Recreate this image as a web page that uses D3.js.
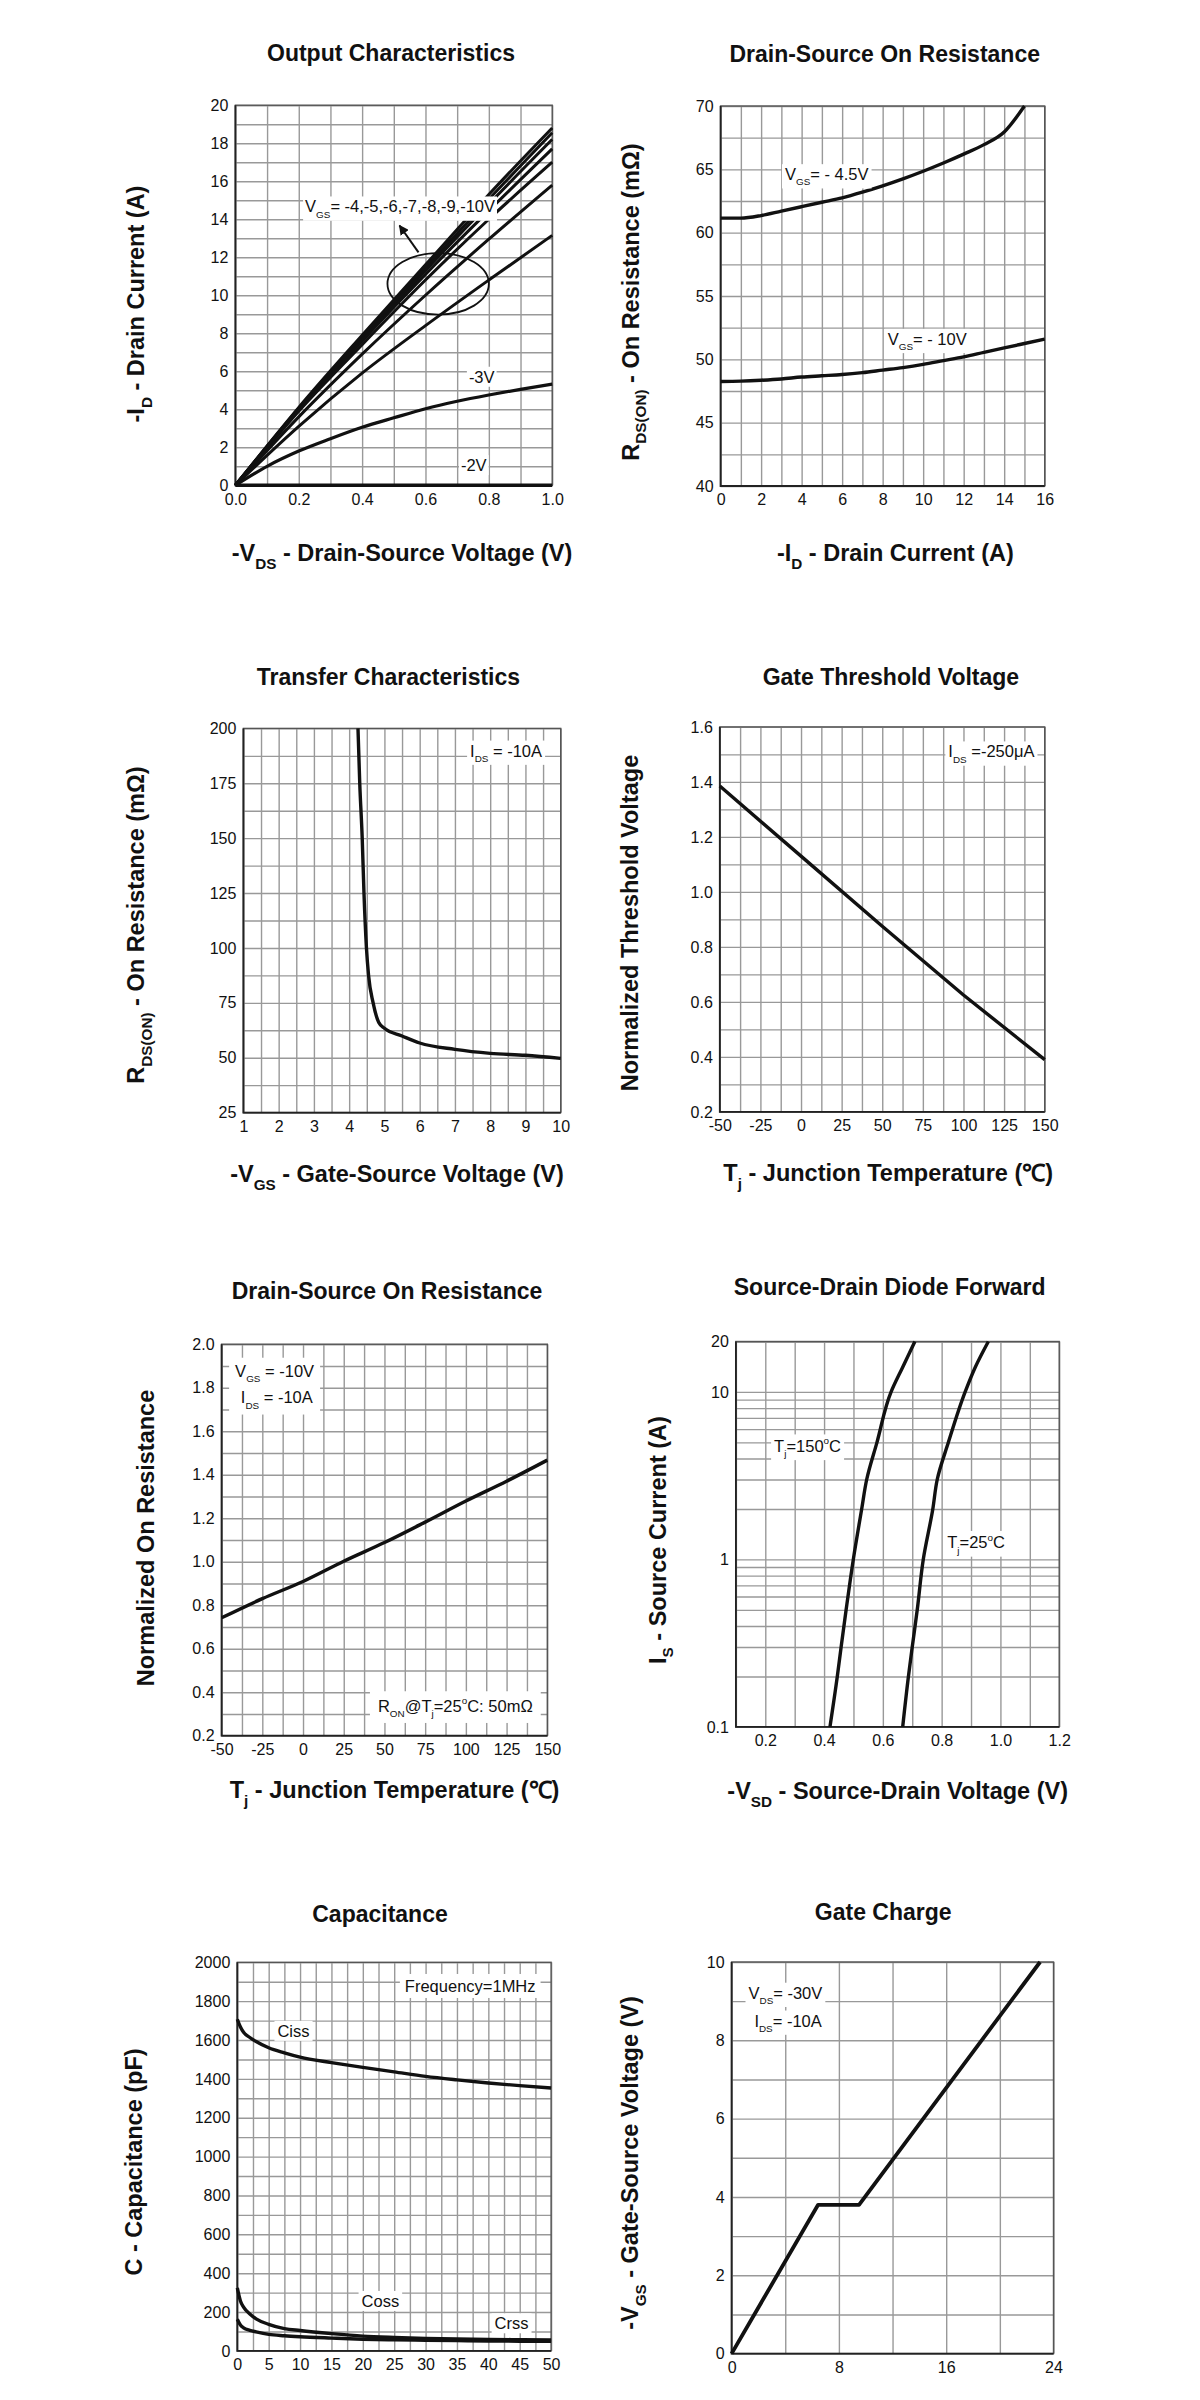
<!DOCTYPE html>
<html><head><meta charset="utf-8">
<script src="https://cdn.jsdelivr.net/npm/d3@7"></script>
<style>
body{margin:0;background:#fff;}
svg{display:block;}
text{font-family:Arial,"Liberation Sans",Helvetica,sans-serif;}
</style></head><body>
<svg id="c" width="1200" height="2400"></svg>
<script>
// ================= DATA =================
// 1. Output characteristics (-VDS V, -ID A)
const ocVds = [0, 0.2, 0.4, 0.6, 0.8, 1.0];
const ocId10 = [0, 4.1, 7.9, 11.6, 15.3, 18.8];
const ocId9  = [0, 4.05, 7.8, 11.45, 15.05, 18.55];
const ocId8  = [0, 4.0, 7.7, 11.3, 14.8, 18.2];
const ocId7  = [0, 3.95, 7.6, 11.1, 14.45, 17.7];
const ocId6  = [0, 3.9, 7.4, 10.8, 14.0, 17.0];
const ocId5  = [0, 3.6, 6.9, 10.0, 12.95, 15.8];
const ocId4  = [0, 3.1, 5.9, 8.4, 10.8, 13.15];
const ocVds3 = [0, 0.1, 0.2, 0.3, 0.4, 0.5, 0.6, 0.7, 0.8, 0.9, 1.0];
const ocId3  = [0, 1.0, 1.8, 2.45, 3.05, 3.55, 4.03, 4.42, 4.75, 5.05, 5.32];
const ocVds2 = [0, 1.0];
const ocId2  = [0, 0];
const oc_xTicks = [0, 0.2, 0.4, 0.6, 0.8, 1.0];
const oc_yTicks = [0, 2, 4, 6, 8, 10, 12, 14, 16, 18, 20];

// 2. Drain-source on resistance vs drain current
const rdsId45 = [0, 1, 2, 3, 4, 5, 6, 7, 8, 9, 10, 11, 12, 13, 14, 15];
const rds45   = [61.15, 61.15, 61.35, 61.7, 62.05, 62.4, 62.75, 63.2, 63.7, 64.25, 64.85, 65.5, 66.2, 66.95, 67.95, 70.0];
const rdsId10 = [0, 1, 2, 3, 4, 5, 6, 7, 8, 9, 10, 11, 12, 13, 14, 15, 16];
const rds10   = [48.25, 48.28, 48.35, 48.45, 48.6, 48.7, 48.8, 48.95, 49.15, 49.35, 49.6, 49.9, 50.2, 50.55, 50.9, 51.25, 51.6];
const rds_xTicks = [0, 2, 4, 6, 8, 10, 12, 14, 16];
const rds_yTicks = [40, 45, 50, 55, 60, 65, 70];

// 3. Transfer characteristics
const trVgs = [4.25, 4.30, 4.37, 4.42, 4.49, 4.55, 4.68, 4.84, 5.0, 5.5, 6, 7, 8, 9, 10];
const trRds = [200, 175, 150, 125, 100, 87.5, 75, 66, 63.4, 59.9, 56.7, 53.8, 52, 51.1, 49.7];
const tr_xTicks = [1, 2, 3, 4, 5, 6, 7, 8, 9, 10];
const tr_yTicks = [25, 50, 75, 100, 125, 150, 175, 200];

// 4. Gate threshold voltage
const gtT = [-50, 0, 50, 100, 150];
const gtV = [1.385, 1.13, 0.875, 0.625, 0.39];
const gt_xTicks = [-50, -25, 0, 25, 50, 75, 100, 125, 150];
const gt_yTicks = [0.2, 0.4, 0.6, 0.8, 1.0, 1.2, 1.4, 1.6];

// 5. Normalized on resistance vs temperature
const nrT = [-50, -25, 0, 25, 50, 75, 100, 125, 150];
const nrR = [0.742, 0.83, 0.909, 1.002, 1.088, 1.182, 1.279, 1.37, 1.467];
const nr_xTicks = [-50, -25, 0, 25, 50, 75, 100, 125, 150];
const nr_yTicks = [0.2, 0.4, 0.6, 0.8, 1.0, 1.2, 1.4, 1.6, 1.8, 2.0];

// 6. Source-drain diode forward
const sdI    = [0.1, 0.2, 0.3, 0.5, 1, 2, 3, 5, 10, 14, 20];
const sdV150 = [0.420, 0.445, 0.458, 0.475, 0.4995, 0.528, 0.545, 0.58, 0.628, 0.667, 0.709];
const sdV25  = [0.6675, 0.687, 0.70, 0.717, 0.7375, 0.77, 0.785, 0.823, 0.88, 0.914, 0.959];
const sd_xTicks = [0.2, 0.4, 0.6, 0.8, 1.0, 1.2];
const sd_yTicks = [0.1, 1, 10, 20];

// 7. Capacitance
const capV = [0, 0.5, 1, 2, 3, 5, 7.5, 10, 15, 20, 25, 30, 35, 40, 45, 50];
const ciss = [1707, 1667, 1640, 1613, 1592, 1560, 1534, 1512, 1484, 1459, 1436, 1413, 1395, 1379, 1365, 1353];
const coss = [324, 257, 225, 190, 165, 137, 115, 105, 89, 76, 69, 64, 61, 59, 58, 57];
const crss = [163, 133, 119, 106, 98, 85, 78, 73, 66, 60, 57, 55, 53, 51, 50, 50];
const cap_xTicks = [0, 5, 10, 15, 20, 25, 30, 35, 40, 45, 50];
const cap_yTicks = [0, 200, 400, 600, 800, 1000, 1200, 1400, 1600, 1800, 2000];

// 8. Gate charge
const gcQ = [0, 6.45, 9.5, 23];
const gcV = [0, 3.8, 3.8, 10];
const gc_xTicks = [0, 8, 16, 24];
const gc_yTicks = [0, 2, 4, 6, 8, 10];

// ================= DRAWING =================
const svg = d3.select('#c');
const INK = '#111';
const hy = f => d => f(d).replace('\u2212', '-');
const fInt = hy(d3.format('d'));
const f1 = hy(d3.format('.1f'));

function rich(g, x, y, parts, o) {
  const size = o.size;
  const t = g.append('text').attr('x', x).attr('y', y)
    .attr('font-size', size).attr('font-weight', o.bold ? 'bold' : 'normal')
    .attr('text-anchor', o.anchor || 'start').attr('fill', INK).attr('dy', '0.35em');
  if (o.rotate) t.attr('transform', `rotate(-90,${x},${y})`);
  let shift = 0;
  parts.forEach(p => {
    const s = typeof p === 'string' ? {t: p} : p;
    const ts = t.append('tspan').text(s.t);
    const target = s.sub ? 0.32 : (s.sup ? -0.45 : 0);
    ts.attr('font-size', (s.sub || s.sup) ? size * (o.subScale || 0.6) : size);
    const d = target - shift;
    if (d !== 0) ts.attr('dy', (d * size) + 'px');
    shift = target;
  });
  if (o.bg) boxBehind(g, [t.node()], o.pad || 3, o.padY || 1);
  return t;
}

function boxBehind(g, nodes, pad, padY) {
  const bs = nodes.map(n => n.getBBox());
  const x0 = d3.min(bs, b => b.x), x1 = d3.max(bs, b => b.x + b.width);
  const y0 = d3.min(bs, b => b.y), y1 = d3.max(bs, b => b.y + b.height);
  g.insert('rect', () => nodes[0]).attr('x', x0 - pad).attr('y', y0 - padY)
    .attr('width', x1 - x0 + 2 * pad).attr('height', y1 - y0 + 2 * padY).attr('fill', '#fff');
}

function panel(c) {
  const g = svg.append('g');
  const x = (c.xLog ? d3.scaleLog() : d3.scaleLinear()).domain(c.xDomain).range([c.x0, c.x1]);
  const y = (c.yLog ? d3.scaleLog() : d3.scaleLinear()).domain(c.yDomain).range([c.y1, c.y0]);
  const W = c.x1 - c.x0, H = c.y1 - c.y0;
  // grid
  g.append('g').attr('transform', `translate(0,${c.y1})`)
    .call(d3.axisBottom(x).tickValues(c.xGrid).tickSize(-H).tickFormat(''))
    .call(s => { s.select('.domain').remove(); s.selectAll('line').attr('stroke', '#999').attr('stroke-width', 1.4); });
  g.append('g').attr('transform', `translate(${c.x0},0)`)
    .call(d3.axisLeft(y).tickValues(c.yGrid).tickSize(-W).tickFormat(''))
    .call(s => { s.select('.domain').remove(); s.selectAll('line').attr('stroke', '#999').attr('stroke-width', 1.4); });
  // frame
  g.append('rect').attr('x', c.x0).attr('y', c.y0).attr('width', W).attr('height', H)
    .attr('fill', 'none').attr('stroke', '#555').attr('stroke-width', 1.4);
  g.append('path').attr('d', `M${c.x0},${c.y0}V${c.y1}H${c.x1}`).attr('fill', 'none')
    .attr('stroke', '#222').attr('stroke-width', 1.8);
  // tick labels
  g.append('g').attr('transform', `translate(0,${c.y1})`)
    .call(d3.axisBottom(x).tickValues(c.xTicks).tickSize(0).tickPadding(c.xPad || 8).tickFormat(c.xFmt || fInt))
    .call(s => { s.select('.domain').remove(); s.attr('font-family', null).attr('font-size', null);
      s.selectAll('text').attr('font-size', 16).attr('fill', INK); });
  g.append('g').attr('transform', `translate(${c.x0},0)`)
    .call(d3.axisLeft(y).tickValues(c.yTicks).tickSize(0).tickPadding(c.yPad || 7).tickFormat(c.yFmt || fInt))
    .call(s => { s.select('.domain').remove(); s.attr('font-family', null).attr('font-size', null);
      s.selectAll('text').attr('font-size', 16).attr('fill', INK); });
  // titles
  rich(g, c.tX, c.tY, [c.title], {size: 23, bold: true, anchor: 'middle'});
  if (c.xTitle) rich(g, c.xtX, c.xtY, c.xTitle, {size: 23.5, bold: true, anchor: 'middle', subScale: 0.65});
  rich(g, c.ytX, c.ytY, c.yTitle, {size: 23.5, bold: true, anchor: 'middle', rotate: true, subScale: 0.65});
  return {g, x, y};
}

function curve(p, xs, ys, opts) {
  const o = opts || {};
  const pts = xs.map((v, i) => [v, ys[i]]);
  p.g.append('path').datum(pts)
    .attr('d', d3.line().x(d => p.x(d[0])).y(d => p.y(d[1])).curve(o.curve || d3.curveMonotoneX))
    .attr('fill', 'none').attr('stroke', INK).attr('stroke-width', o.w || 3.4)
    .attr('stroke-linejoin', 'round').attr('stroke-linecap', 'butt');
}

function label(p, dx, dy, parts, o) {
  return rich(p.g, p.x(dx), p.y(dy), parts, Object.assign({size: 16.5, bg: true}, o || {}));
}

const r = (a, b, s) => d3.range(a, b + s / 2, s);

// ---------- Panel 1: Output Characteristics ----------
const p1 = panel({x0: 235.4, x1: 552.2, y0: 105.2, y1: 485.3, xDomain: [0, 1], yDomain: [0, 20],
  xGrid: r(0, 1, 0.1), yGrid: r(0, 20, 1), xTicks: oc_xTicks, yTicks: oc_yTicks, xFmt: f1,
  title: 'Output Characteristics', tX: 391, tY: 52.5,
  xTitle: ['-V', {t: 'DS', sub: true}, ' - Drain-Source Voltage (V)'], xtX: 402, xtY: 553,
  yTitle: ['-I', {t: 'D', sub: true}, ' - Drain Current (A)'], ytX: 136, ytY: 304});
[ocId10, ocId9, ocId8, ocId7, ocId6, ocId5, ocId4].forEach(s => curve(p1, ocVds, s, {w: 3}));
curve(p1, ocVds3, ocId3, {w: 3.2});
curve(p1, ocVds2, ocId2, {w: 3.6, curve: d3.curveLinear});
p1.g.append('ellipse').attr('cx', p1.x(0.64)).attr('cy', p1.y(10.6))
  .attr('rx', p1.x(0.80) - p1.x(0.64)).attr('ry', p1.y(10.6) - p1.y(12.22))
  .attr('fill', 'none').attr('stroke', INK).attr('stroke-width', 1.8);
svg.append('defs').append('marker').attr('id', 'ah').attr('viewBox', '0 0 10 10')
  .attr('refX', 9).attr('refY', 5).attr('markerWidth', 5).attr('markerHeight', 5).attr('orient', 'auto')
  .append('path').attr('d', 'M0,0L10,5L0,10z').attr('fill', INK);
p1.g.append('line').attr('x1', p1.x(0.578)).attr('y1', p1.y(12.26)).attr('x2', p1.x(0.518)).attr('y2', p1.y(13.67))
  .attr('stroke', INK).attr('stroke-width', 2).attr('marker-end', 'url(#ah)');
label(p1, 0.22, 14.66, ['V', {t: 'GS', sub: true}, '= -4,-5,-6,-7,-8,-9,-10V'], {pad: 2});
label(p1, 0.737, 5.7, ['-3V'], {pad: 2});
label(p1, 0.712, 1.05, ['-2V'], {pad: 2});

// ---------- Panel 2: Drain-Source On Resistance ----------
const p2 = panel({x0: 720.6, x1: 1044.7, y0: 106, y1: 486, xDomain: [0, 16], yDomain: [40, 70],
  xGrid: r(0, 16, 1), yGrid: r(40, 70, 2.5), xTicks: rds_xTicks, yTicks: rds_yTicks,
  title: 'Drain-Source On Resistance', tX: 884.7, tY: 54,
  xTitle: ['-I', {t: 'D', sub: true}, ' - Drain Current (A)'], xtX: 895.4, xtY: 553,
  yTitle: ['R', {t: 'DS(ON)', sub: true}, ' - On Resistance (mΩ)'], ytX: 630.6, ytY: 302});
curve(p2, rdsId45, rds45);
curve(p2, rdsId10, rds10);
label(p2, 3.18, 64.6, ['V', {t: 'GS', sub: true}, '= - 4.5V']);
label(p2, 8.25, 51.6, ['V', {t: 'GS', sub: true}, '= - 10V']);

// ---------- Panel 3: Transfer Characteristics ----------
const p3 = panel({x0: 243.4, x1: 560.7, y0: 728.4, y1: 1112.6, xDomain: [1, 10], yDomain: [25, 200],
  xGrid: r(1, 10, 0.5), yGrid: r(25, 200, 12.5), xTicks: tr_xTicks, yTicks: tr_yTicks,
  title: 'Transfer Characteristics', tX: 388.4, tY: 677,
  xTitle: ['-V', {t: 'GS', sub: true}, ' - Gate-Source Voltage (V)'], xtX: 397, xtY: 1174,
  yTitle: ['R', {t: 'DS(ON)', sub: true}, ' - On Resistance (mΩ)'], ytX: 136, ytY: 925});
curve(p3, trVgs, trRds);
label(p3, 7.43, 189.8, ['I', {t: 'DS', sub: true}, ' = -10A']);

// ---------- Panel 4: Gate Threshold Voltage ----------
const p4 = panel({x0: 719.8, x1: 1044.7, y0: 726.9, y1: 1111.9, xDomain: [-50, 150], yDomain: [0.2, 1.6],
  xGrid: r(-50, 150, 12.5), yGrid: r(0.2, 1.6, 0.1), xTicks: gt_xTicks, yTicks: gt_yTicks, yFmt: f1,
  title: 'Gate Threshold Voltage', tX: 890.9, tY: 677,
  xTitle: ['T', {t: 'j', sub: true}, ' - Junction Temperature (℃)'], xtX: 888.2, xtY: 1173,
  yTitle: ['Normalized Threshold Voltage'], ytX: 630, ytY: 923});
curve(p4, gtT, gtV, {curve: d3.curveLinear});
label(p4, 90.7, 1.51, ['I', {t: 'DS', sub: true}, ' =-250μA']);

// ---------- Panel 5: Normalized On Resistance ----------
const p5 = panel({x0: 221.6, x1: 547.3, y0: 1344.2, y1: 1735.7, xDomain: [-50, 150], yDomain: [0.2, 2.0],
  xGrid: r(-50, 150, 12.5), yGrid: r(0.2, 2.0, 0.1), xTicks: nr_xTicks, yTicks: nr_yTicks, yFmt: f1,
  title: 'Drain-Source On Resistance', tX: 387, tY: 1290.6,
  xTitle: ['T', {t: 'j', sub: true}, ' - Junction Temperature (℃)'], xtX: 394.6, xtY: 1790,
  yTitle: ['Normalized On Resistance'], ytX: 145.4, ytY: 1538});
curve(p5, nrT, nrR);
const l5a = rich(p5.g, p5.x(-41.7), p5.y(1.877), ['V', {t: 'GS', sub: true}, ' = -10V'], {size: 16.5});
const l5b = rich(p5.g, p5.x(-38.2), p5.y(1.755), ['I', {t: 'DS', sub: true}, ' = -10A'], {size: 16.5});
boxBehind(p5.g, [l5a.node(), l5b.node()], 6, 4);
label(p5, 46, 0.337, ['R', {t: 'ON', sub: true}, '@T', {t: 'j', sub: true}, '=25', {t: 'o', sup: true}, 'C: 50mΩ'], {pad: 8, padY: 4});

// ---------- Panel 6: Source-Drain Diode Forward ----------
const sdGrid = [].concat(...[0.1, 1, 10].map(d => d3.range(1, 10).map(k => +(k * d).toFixed(2)))).filter(v => v <= 20).concat([20]);
const p6 = panel({x0: 735.9, x1: 1059.2, y0: 1341.5, y1: 1726.9, xDomain: [0.1, 1.2], yDomain: [0.1, 20], yLog: true,
  xGrid: r(0.1, 1.2, 0.1), yGrid: sdGrid, xTicks: sd_xTicks, yTicks: sd_yTicks, xFmt: f1,
  yFmt: d => String(d),
  title: 'Source-Drain Diode Forward', tX: 889.7, tY: 1287,
  xTitle: ['-V', {t: 'SD', sub: true}, ' - Source-Drain Voltage (V)'], xtX: 897.7, xtY: 1791,
  yTitle: ['I', {t: 'S', sub: true}, ' - Source Current (A)'], ytX: 657.4, ytY: 1540});
curve(p6, sdV150, sdI, {curve: d3.curveMonotoneY});
curve(p6, sdV25, sdI, {curve: d3.curveMonotoneY});
label(p6, 0.230, 4.75, ['T', {t: 'j', sub: true}, '=150', {t: 'o', sup: true}, 'C']);
label(p6, 0.819, 1.26, ['T', {t: 'j', sub: true}, '=25', {t: 'o', sup: true}, 'C']);

// ---------- Panel 7: Capacitance ----------
const p7 = panel({x0: 237.3, x1: 551.1, y0: 1962.3, y1: 2350.9, xDomain: [0, 50], yDomain: [0, 2000],
  xGrid: r(0, 50, 2.5), yGrid: r(0, 2000, 100), xTicks: cap_xTicks, yTicks: cap_yTicks,
  title: 'Capacitance', tX: 380, tY: 1914.4,
  yTitle: ['C - Capacitance (pF)'], ytX: 134, ytY: 2162});
curve(p7, capV, ciss);
curve(p7, capV, coss);
curve(p7, capV, crss);
label(p7, 6.4, 1646, ['Ciss']);
label(p7, 19.8, 256, ['Coss']);
label(p7, 41, 141, ['Crss']);
label(p7, 26.7, 1877, ['Frequency=1MHz'], {pad: 5, padY: 3});

// ---------- Panel 8: Gate Charge ----------
const p8 = panel({x0: 731.6, x1: 1053.5, y0: 1962, y1: 2353.6, xDomain: [0, 24], yDomain: [0, 10],
  xGrid: r(0, 24, 4), yGrid: r(0, 10, 1), xTicks: gc_xTicks, yTicks: gc_yTicks,
  title: 'Gate Charge', tX: 883.2, tY: 1911.7,
  yTitle: ['-V', {t: 'GS', sub: true}, ' - Gate-Source Voltage (V)'], ytX: 630, ytY: 2163});
curve(p8, gcQ, gcV, {curve: d3.curveLinear, w: 3.8});
label(p8, 1.26, 9.21, ['V', {t: 'DS', sub: true}, '= -30V']);
label(p8, 1.7, 8.5, ['I', {t: 'DS', sub: true}, '= -10A']);
</script>
</body></html>
